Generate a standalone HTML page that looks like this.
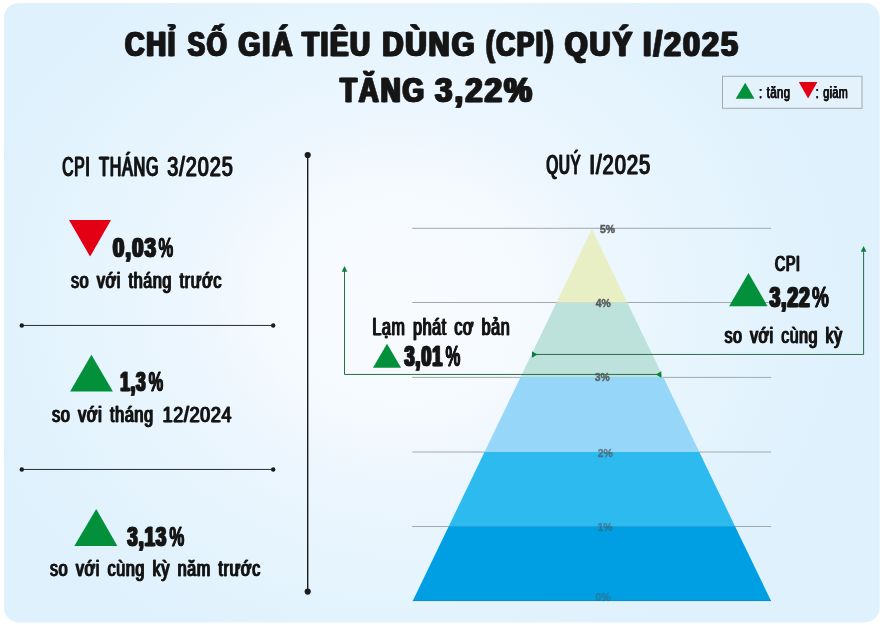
<!DOCTYPE html>
<html lang="vi">
<head>
<meta charset="utf-8">
<title>Chỉ số giá tiêu dùng (CPI) quý I/2025</title>
<style>
  html, body { margin: 0; padding: 0; background: #ffffff; }
  body { width: 883px; height: 625px; overflow: hidden; font-family: "Liberation Sans", sans-serif; }
  svg { display: block; will-change: transform; }
  text { font-family: "Liberation Sans", sans-serif; }
</style>
</head>
<body>
<svg width="883" height="625" viewBox="0 0 883 625">
  <defs>
    <radialGradient id="bg" gradientUnits="userSpaceOnUse" cx="0" cy="0" r="1" gradientTransform="translate(400 300) scale(440 380)">
      <stop offset="0" stop-color="#f8fbfe"/>
      <stop offset="0.3" stop-color="#f5fafe"/>
      <stop offset="0.5" stop-color="#ecf6fe"/>
      <stop offset="0.75" stop-color="#e5f4fd"/>
      <stop offset="1" stop-color="#dff1fd"/>
    </radialGradient>
  </defs>
  <rect x="0" y="0" width="883" height="625" fill="#ffffff"/>
  <rect x="3.9" y="2.9" width="875.8" height="619.5" rx="15" ry="15" fill="url(#bg)"/>
  <!-- legend -->
  <rect x="722.5" y="76.3" width="139.5" height="32" fill="#e4f2fc" stroke="#a0a9ae" stroke-width="1"/>
  <polygon points="745.2,82.7 735.7,98.8 754.5,98.8" fill="#03903a"/>
  <polygon points="798.8,82 817.4,82 808.1,98.6" fill="#e30014"/>
  <!-- left column -->
  <polygon points="69,220.1 111,220.1 90.1,256.6" fill="#e30014"/>
  <polygon points="91.4,354.7 70.1,391.6 112.9,391.6" fill="#03903a"/>
  <polygon points="96.2,509.1 74.3,545.9 117.4,545.9" fill="#03903a"/>
  <line x1="21.8" y1="325.45" x2="273.2" y2="325.45" stroke="#2a2c2e" stroke-width="1"/>
  <circle cx="21.8" cy="325.45" r="2.2" fill="#1c1c1c"/><circle cx="273.2" cy="325.45" r="2.2" fill="#1c1c1c"/>
  <line x1="21.8" y1="469.45" x2="273.2" y2="469.45" stroke="#2a2c2e" stroke-width="1"/>
  <circle cx="21.8" cy="469.45" r="2.2" fill="#1c1c1c"/><circle cx="273.2" cy="469.45" r="2.2" fill="#1c1c1c"/>
  <!-- vertical divider -->
  <line x1="307.7" y1="155" x2="307.7" y2="591.6" stroke="#1c1c1c" stroke-width="1.4"/>
  <circle cx="307.7" cy="155" r="3.1" fill="#1c1c1c"/><circle cx="307.7" cy="591.6" r="3.1" fill="#1c1c1c"/>
  <!-- gridlines -->
  <g stroke="#a2a9ad" stroke-width="1">
  <line x1="412.2" y1="228.3" x2="771.3" y2="228.3"/>
  <line x1="412.2" y1="302.5" x2="771.3" y2="302.5"/>
  <line x1="412.2" y1="377.4" x2="771.3" y2="377.4"/>
  <line x1="412.2" y1="452.0" x2="771.3" y2="452.0"/>
  <line x1="412.2" y1="526.5" x2="771.3" y2="526.5"/>
  </g>
  <!-- pyramid -->
  <polygon points="591.9,229.0 591.9,229.0 627.4,302.8 556.4,302.8" fill="#e8efc4"/>
  <polygon points="556.4,302.8 627.4,302.8 663.2,377.0 520.6,377.0" fill="#bde1db"/>
  <polygon points="520.6,377.0 663.2,377.0 699.3,452.0 484.5,452.0" fill="#96d6f8"/>
  <polygon points="484.5,452.0 699.3,452.0 735.0,526.2 448.8,526.2" fill="#2dbaef"/>
  <polygon points="448.8,526.2 735.0,526.2 771.1,601.1 412.7,601.1" fill="#009fe3"/>
  <line x1="412.9" y1="600.6" x2="770.9" y2="600.6" stroke="#0a86c4" stroke-width="1" opacity="0.7"/>
  <!-- axis labels -->
  <text x="600.0" y="232.5" font-size="10.4" font-weight="700" fill="#4e5053" stroke="#4e5053" stroke-width="0.45" opacity="0.95">5%</text>
  <text x="595.8" y="306.8" font-size="10.4" font-weight="700" fill="#4e5053" stroke="#4e5053" stroke-width="0.45" opacity="0.9">4%</text>
  <text x="594.8" y="381.4" font-size="10.4" font-weight="700" fill="#4e5053" stroke="#4e5053" stroke-width="0.45" opacity="0.85">3%</text>
  <text x="597.8" y="457.0" font-size="10.4" font-weight="700" fill="#4e5053" stroke="#4e5053" stroke-width="0.45" opacity="0.65">2%</text>
  <text x="597.4" y="531.2" font-size="10.4" font-weight="700" fill="#4e5053" stroke="#4e5053" stroke-width="0.45" opacity="0.5">1%</text>
  <text x="595.5" y="600.8" font-size="10.4" font-weight="700" fill="#4e5053" stroke="#4e5053" stroke-width="0.45" opacity="0.4">0%</text>
  <!-- annotation arrows -->
  <g stroke="#2c6d47" stroke-width="1" fill="none">
  <polyline points="344.5,270 344.5,374.45 657,374.45"/>
  <polyline points="536,354.45 863.6,354.45 863.6,250"/>
  </g>
  <g fill="#0d7f3a">
  <polygon points="344.5,266 341.7,271.7 347.3,271.7"/>
  <polygon points="863.6,246 860.8,251.7 866.4,251.7"/>
  <polygon points="537.4,354.45 532,351.2 532,357.7"/>
  <polygon points="655.9,374.45 661.3,371.2 661.3,377.7"/>
  </g>
  <polygon points="387,343.8 373,367.8 401.1,367.8" fill="#03903a"/>
  <polygon points="748.5,273.1 729.1,306.2 767.5,306.2" fill="#03903a"/>
  <!-- text -->
  <text id="w1" x="125.07" y="56.30" font-size="35.8" font-weight="700" textLength="52.00" lengthAdjust="spacingAndGlyphs" letter-spacing="2.4" word-spacing="0" fill="#161616" stroke="#161616" stroke-width="0.6" stroke-linejoin="round">CHỈ</text><use href="#w1" x="-1.05"/><use href="#w1" x="1.05"/>
  <text id="w2" x="187.78" y="56.30" font-size="35.8" font-weight="700" textLength="40.82" lengthAdjust="spacingAndGlyphs" letter-spacing="2.4" word-spacing="0" fill="#161616" stroke="#161616" stroke-width="0.6" stroke-linejoin="round">SỐ</text><use href="#w2" x="-1.05"/><use href="#w2" x="1.05"/>
  <text id="w3" x="238.45" y="56.30" font-size="35.8" font-weight="700" textLength="55.82" lengthAdjust="spacingAndGlyphs" letter-spacing="2.4" word-spacing="0" fill="#161616" stroke="#161616" stroke-width="0.6" stroke-linejoin="round">GIÁ</text><use href="#w3" x="-1.05"/><use href="#w3" x="1.05"/>
  <text id="w4" x="302.14" y="56.30" font-size="35.8" font-weight="700" textLength="69.60" lengthAdjust="spacingAndGlyphs" letter-spacing="2.4" word-spacing="0" fill="#161616" stroke="#161616" stroke-width="0.6" stroke-linejoin="round">TIÊU</text><use href="#w4" x="-1.05"/><use href="#w4" x="1.05"/>
  <text id="w5" x="382.20" y="56.30" font-size="35.8" font-weight="700" textLength="94.39" lengthAdjust="spacingAndGlyphs" letter-spacing="2.4" word-spacing="0" fill="#161616" stroke="#161616" stroke-width="0.6" stroke-linejoin="round">DÙNG</text><use href="#w5" x="-1.05"/><use href="#w5" x="1.05"/>
  <text id="w6" x="485.98" y="56.30" font-size="35.8" font-weight="700" textLength="69.19" lengthAdjust="spacingAndGlyphs" letter-spacing="2.4" word-spacing="0" fill="#161616" stroke="#161616" stroke-width="0.6" stroke-linejoin="round">(CPI)</text><use href="#w6" x="-1.05"/><use href="#w6" x="1.05"/>
  <text id="w7" x="564.89" y="56.30" font-size="35.8" font-weight="700" textLength="69.20" lengthAdjust="spacingAndGlyphs" letter-spacing="2.4" word-spacing="0" fill="#161616" stroke="#161616" stroke-width="0.6" stroke-linejoin="round">QUÝ</text><use href="#w7" x="-1.05"/><use href="#w7" x="1.05"/>
  <text id="w8" x="643.00" y="56.30" font-size="35.8" font-weight="700" textLength="96.99" lengthAdjust="spacingAndGlyphs" letter-spacing="2.4" word-spacing="0" fill="#161616" stroke="#161616" stroke-width="0.6" stroke-linejoin="round">I/2025</text><use href="#w8" x="-1.05"/><use href="#w8" x="1.05"/>
  <text id="w9" x="339.96" y="101.80" font-size="35.8" font-weight="700" textLength="86.02" lengthAdjust="spacingAndGlyphs" letter-spacing="2.4" word-spacing="0" fill="#161616" stroke="#161616" stroke-width="0.6" stroke-linejoin="round">TĂNG</text><use href="#w9" x="-1.05"/><use href="#w9" x="1.05"/>
  <text id="w10" x="434.99" y="101.80" font-size="35.8" font-weight="700" textLength="99.00" lengthAdjust="spacingAndGlyphs" letter-spacing="2.4" word-spacing="0" fill="#161616" stroke="#161616" stroke-width="0.6" stroke-linejoin="round">3,22%</text><use href="#w10" x="-1.05"/><use href="#w10" x="1.05"/>
  <text id="lg1" x="759.03" y="97.90" font-size="16.3" font-weight="400" textLength="31.39" lengthAdjust="spacingAndGlyphs" letter-spacing="0.6" word-spacing="1.0" fill="#161616" stroke="#161616" stroke-width="0.25" stroke-linejoin="round">: tăng</text><use href="#lg1" x="-0.3"/><use href="#lg1" x="0.3"/>
  <text id="lg2" x="815.79" y="97.90" font-size="16.3" font-weight="400" textLength="32.42" lengthAdjust="spacingAndGlyphs" letter-spacing="0.6" word-spacing="1.0" fill="#161616" stroke="#161616" stroke-width="0.25" stroke-linejoin="round">: giảm</text><use href="#lg2" x="-0.3"/><use href="#lg2" x="0.3"/>
  <text id="h1" x="62.30" y="176.30" font-size="27.0" font-weight="400" textLength="28.17" lengthAdjust="spacingAndGlyphs" letter-spacing="1.3" word-spacing="0" fill="#161616" stroke="#161616" stroke-width="0.35" stroke-linejoin="round">CPI</text><use href="#h1" x="-0.55"/><use href="#h1" x="0.55"/>
  <text id="h1b" x="99.17" y="176.30" font-size="27.0" font-weight="400" textLength="60.03" lengthAdjust="spacingAndGlyphs" letter-spacing="1.3" word-spacing="0" fill="#161616" stroke="#161616" stroke-width="0.35" stroke-linejoin="round">THÁNG</text><use href="#h1b" x="-0.55"/><use href="#h1b" x="0.55"/>
  <text id="h1c" x="167.30" y="176.30" font-size="27.0" font-weight="400" textLength="66.39" lengthAdjust="spacingAndGlyphs" letter-spacing="1.3" word-spacing="0" fill="#161616" stroke="#161616" stroke-width="0.35" stroke-linejoin="round">3/2025</text><use href="#h1c" x="-0.55"/><use href="#h1c" x="0.55"/>
  <text id="h2" x="546.39" y="174.20" font-size="26.8" font-weight="400" textLength="34.89" lengthAdjust="spacingAndGlyphs" letter-spacing="1.3" word-spacing="0" fill="#161616" stroke="#161616" stroke-width="0.35" stroke-linejoin="round">QUÝ</text><use href="#h2" x="-0.55"/><use href="#h2" x="0.55"/>
  <text id="h2b" x="589.40" y="174.20" font-size="26.8" font-weight="400" textLength="61.80" lengthAdjust="spacingAndGlyphs" letter-spacing="1.3" word-spacing="0" fill="#161616" stroke="#161616" stroke-width="0.35" stroke-linejoin="round">I/2025</text><use href="#h2b" x="-0.55"/><use href="#h2b" x="0.55"/>
  <text id="n1" x="112.95" y="257.00" font-size="28.5" font-weight="700" textLength="44.04" lengthAdjust="spacingAndGlyphs" letter-spacing="1.6" word-spacing="0" fill="#161616" stroke="#161616" stroke-width="0.7" stroke-linejoin="round">0,03</text><use href="#n1" x="-0.9"/><use href="#n1" x="0.9"/>
  <text id="p1" x="158.53" y="257.00" font-size="28.5" font-weight="700" textLength="14.74" lengthAdjust="spacingAndGlyphs" letter-spacing="0" word-spacing="0" fill="#161616" stroke="#161616" stroke-width="0.35" stroke-linejoin="round">%</text><use href="#p1" x="-0.35"/><use href="#p1" x="0.35"/>
  <text id="s1" x="70.99" y="287.50" font-size="22.8" font-weight="400" textLength="151.01" lengthAdjust="spacingAndGlyphs" letter-spacing="0.9" word-spacing="3.6" fill="#161616" stroke="#161616" stroke-width="0.3" stroke-linejoin="round">so với tháng trước</text><use href="#s1" x="-0.6"/><use href="#s1" x="0.6"/>
  <text id="n2" x="120.33" y="391.30" font-size="28.5" font-weight="700" textLength="26.09" lengthAdjust="spacingAndGlyphs" letter-spacing="1.6" word-spacing="0" fill="#161616" stroke="#161616" stroke-width="0.7" stroke-linejoin="round">1,3</text><use href="#n2" x="-0.9"/><use href="#n2" x="0.9"/>
  <text id="p2" x="148.72" y="391.30" font-size="28.5" font-weight="700" textLength="14.53" lengthAdjust="spacingAndGlyphs" letter-spacing="0" word-spacing="0" fill="#161616" stroke="#161616" stroke-width="0.35" stroke-linejoin="round">%</text><use href="#p2" x="-0.35"/><use href="#p2" x="0.35"/>
  <text id="s2" x="52.08" y="421.80" font-size="22.8" font-weight="400" textLength="101.62" lengthAdjust="spacingAndGlyphs" letter-spacing="0.9" word-spacing="3.6" fill="#161616" stroke="#161616" stroke-width="0.3" stroke-linejoin="round">so với tháng</text><use href="#s2" x="-0.6"/><use href="#s2" x="0.6"/>
  <text id="s2b" x="162.60" y="421.80" font-size="22.8" font-weight="400" textLength="69.59" lengthAdjust="spacingAndGlyphs" letter-spacing="0.9" word-spacing="3.6" fill="#161616" stroke="#161616" stroke-width="0.3" stroke-linejoin="round">12/2024</text><use href="#s2b" x="-0.6"/><use href="#s2b" x="0.6"/>
  <text id="n3" x="127.35" y="545.60" font-size="28.5" font-weight="700" textLength="39.84" lengthAdjust="spacingAndGlyphs" letter-spacing="1.6" word-spacing="0" fill="#161616" stroke="#161616" stroke-width="0.7" stroke-linejoin="round">3,13</text><use href="#n3" x="-0.9"/><use href="#n3" x="0.9"/>
  <text id="p3" x="169.47" y="545.60" font-size="28.5" font-weight="700" textLength="14.85" lengthAdjust="spacingAndGlyphs" letter-spacing="0" word-spacing="0" fill="#161616" stroke="#161616" stroke-width="0.35" stroke-linejoin="round">%</text><use href="#p3" x="-0.35"/><use href="#p3" x="0.35"/>
  <text id="s3" x="50.00" y="576.00" font-size="22.8" font-weight="400" textLength="210.81" lengthAdjust="spacingAndGlyphs" letter-spacing="0.9" word-spacing="3.6" fill="#161616" stroke="#161616" stroke-width="0.3" stroke-linejoin="round">so với cùng kỳ năm trước</text><use href="#s3" x="-0.6"/><use href="#s3" x="0.6"/>
  <text id="s4" x="372.40" y="335.40" font-size="23.2" font-weight="400" textLength="137.90" lengthAdjust="spacingAndGlyphs" letter-spacing="0.9" word-spacing="3.6" fill="#161616" stroke="#161616" stroke-width="0.3" stroke-linejoin="round">Lạm phát cơ bản</text><use href="#s4" x="-0.6"/><use href="#s4" x="0.6"/>
  <text id="n4" x="404.50" y="366.30" font-size="28.7" font-weight="700" textLength="38.74" lengthAdjust="spacingAndGlyphs" letter-spacing="1.6" word-spacing="0" fill="#161616" stroke="#161616" stroke-width="0.7" stroke-linejoin="round">3,01</text><use href="#n4" x="-0.9"/><use href="#n4" x="0.9"/>
  <text id="p4" x="445.53" y="366.30" font-size="28.7" font-weight="700" textLength="14.91" lengthAdjust="spacingAndGlyphs" letter-spacing="0" word-spacing="0" fill="#161616" stroke="#161616" stroke-width="0.35" stroke-linejoin="round">%</text><use href="#p4" x="-0.35"/><use href="#p4" x="0.35"/>
  <text id="s5" x="774.88" y="271.10" font-size="22.2" font-weight="400" textLength="25.62" lengthAdjust="spacingAndGlyphs" letter-spacing="0.9" word-spacing="3.6" fill="#161616" stroke="#161616" stroke-width="0.3" stroke-linejoin="round">CPI</text><use href="#s5" x="-0.6"/><use href="#s5" x="0.6"/>
  <text id="n5" x="769.55" y="306.80" font-size="28.7" font-weight="700" textLength="41.19" lengthAdjust="spacingAndGlyphs" letter-spacing="1.6" word-spacing="0" fill="#161616" stroke="#161616" stroke-width="0.7" stroke-linejoin="round">3,22</text><use href="#n5" x="-0.9"/><use href="#n5" x="0.9"/>
  <text id="p5" x="812.00" y="306.80" font-size="28.7" font-weight="700" textLength="16.88" lengthAdjust="spacingAndGlyphs" letter-spacing="0" word-spacing="0" fill="#161616" stroke="#161616" stroke-width="0.35" stroke-linejoin="round">%</text><use href="#p5" x="-0.35"/><use href="#p5" x="0.35"/>
  <text id="s6" x="724.58" y="343.40" font-size="22.8" font-weight="400" textLength="118.03" lengthAdjust="spacingAndGlyphs" letter-spacing="0.9" word-spacing="3.6" fill="#161616" stroke="#161616" stroke-width="0.3" stroke-linejoin="round">so với cùng kỳ</text><use href="#s6" x="-0.6"/><use href="#s6" x="0.6"/>
</svg>
</body>
</html>
